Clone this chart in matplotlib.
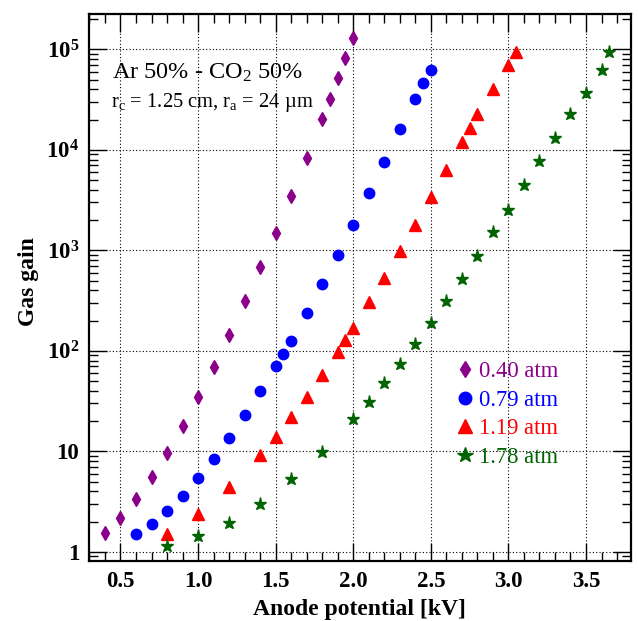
import matplotlib
matplotlib.use("Agg")
import matplotlib.pyplot as plt
from matplotlib.ticker import MultipleLocator, LogLocator, FixedLocator, FixedFormatter, NullFormatter

plt.rcParams['font.family'] = ['Liberation Serif', 'DejaVu Serif']
plt.rcParams['mathtext.fontset'] = 'custom'
plt.rcParams['mathtext.rm'] = 'Liberation Serif'
plt.rcParams['mathtext.it'] = 'Liberation Serif:italic'
plt.rcParams['mathtext.bf'] = 'Liberation Serif:bold'

# ---- data ----
v040 = [0.4, 0.5, 0.6, 0.7, 0.8, 0.9, 1.0, 1.1, 1.2, 1.3, 1.4, 1.5, 1.6, 1.7, 1.8, 1.85, 1.9, 1.95, 2.0]
g040 = [1.53, 2.16, 3.36, 5.52, 9.55, 17.8, 34.4, 69.2, 143, 311, 681, 1496, 3453, 8240, 20270,
        32000, 52500, 81800, 131000]

v079 = [0.6, 0.7, 0.8, 0.9, 1.0, 1.1, 1.2, 1.3, 1.4, 1.5, 1.55, 1.6, 1.7, 1.8, 1.9, 2.0, 2.1, 2.2,
        2.3, 2.4, 2.45, 2.5]
g079 = [1.50, 1.90, 2.55, 3.62, 5.43, 8.45, 13.6, 22.9, 39.7, 70.8, 94, 126.6, 238, 459, 890, 1808,
        3700, 7510, 16200, 32000, 46100, 62100]

v119 = [0.8, 1.0, 1.2, 1.4, 1.5, 1.6, 1.7, 1.8, 1.9, 1.95, 2.0, 2.1, 2.2, 2.3, 2.4, 2.5, 2.6, 2.7,
        2.75, 2.8, 2.9, 3.0, 3.05]
g119 = [1.52, 2.38, 4.39, 9.12, 13.8, 21.8, 34.9, 57.3, 96.9, 127, 169, 306, 535, 975, 1808, 3430,
        6310, 12050, 16500, 22500, 40300, 70200, 94500]

v178 = [0.8, 1.0, 1.2, 1.4, 1.6, 1.8, 2.0, 2.1, 2.2, 2.3, 2.4, 2.5, 2.6, 2.7, 2.8, 2.9, 3.0, 3.1,
        3.2, 3.3, 3.4, 3.5, 3.6, 3.65]
g178 = [1.155, 1.43, 1.95, 3.0, 5.27, 9.91, 20.9, 31.1, 48, 74.8, 116, 189, 311, 517, 870, 1506,
        2550, 4510, 7820, 13100, 23000, 37200, 62100, 95100]

labels = ['0.40 atm', '0.79 atm', '1.19 atm', '1.78 atm']
colors = ['#8B008B', '#0000FF', '#FF0000', '#006400']

x_ticks = [0.5, 1.0, 1.5, 2.0, 2.5, 3.0, 3.5]
x_ticklabels = ['0.5', '1.0', '1.5', '2.0', '2.5', '3.0', '3.5']
y_ticks = [1, 10, 100, 1000, 10000, 100000]
y_ticklabels = ['1', '10', r'$\mathbf{10^{2}}$', r'$\mathbf{10^{3}}$', r'$\mathbf{10^{4}}$',
                r'$\mathbf{10^{5}}$']

# ---- figure ----
fig = plt.figure(figsize=(6.38, 6.21), dpi=100)
ax = fig.add_axes([89 / 638, 1 - 561 / 621, (630.7 - 89) / 638, (561 - 14) / 621])

ax.plot(v040, g040, linestyle='none', marker='d', ms=6.8, color=colors[0], label=labels[0])
ax.plot(v079, g079, linestyle='none', marker='o', ms=7.5, color=colors[1], label=labels[1])
ax.plot(v119, g119, linestyle='none', marker='^', ms=8.0, color=colors[2], label=labels[2])
ax.plot(v178, g178, linestyle='none', marker='*', ms=9.6, color=colors[3], label=labels[3])

ax.set_yscale('log')
ax.set_xlim(0.297, 3.788)
ax.set_ylim(0.81, 2.25e5)

ax.xaxis.set_major_locator(FixedLocator(x_ticks))
ax.xaxis.set_major_formatter(FixedFormatter(x_ticklabels))
ax.xaxis.set_minor_locator(MultipleLocator(0.1))
ax.yaxis.set_major_locator(FixedLocator(y_ticks))
ax.yaxis.set_major_formatter(FixedFormatter(y_ticklabels))
ax.yaxis.set_minor_locator(LogLocator(base=10, subs=[2, 3, 4, 5, 6, 7, 8, 9], numticks=20))
ax.yaxis.set_minor_formatter(NullFormatter())

ax.tick_params(which='both', direction='in', top=True, right=True, color='black')
ax.tick_params(which='major', length=13, width=1.0, pad=7)
ax.tick_params(which='minor', length=6.5, width=1.0)
for lab in ax.get_xticklabels() + ax.get_yticklabels():
    lab.set_fontweight('bold')
    lab.set_fontsize(16.5)

for s in ax.spines.values():
    s.set_linewidth(1.6)

ax.grid(True, which='major', linestyle=(0, (1, 2)), color='black', linewidth=0.8)

ax.set_xlabel('Anode potential [kV]', fontsize=17, fontweight='bold')
ax.set_ylabel('Gas gain', fontsize=17, fontweight='bold')
ax.xaxis.set_label_coords(0.5, -0.07)
ax.yaxis.set_label_coords(-0.093, 0.51)

ax.text(0.042, 0.8824, r'Ar 50% - CO$_{2}$ 50%', transform=ax.transAxes, fontsize=17.5,
        ha='left', va='baseline')
ax.text(0.040, 0.8305, r'r$_{\mathrm{c}}$ = 1.25 cm, r$_{\mathrm{a}}$ = 24 µm', transform=ax.transAxes,
        fontsize=14.8, ha='left', va='baseline')

leg = ax.legend(loc='upper left', bbox_to_anchor=(0.6775, 0.365), frameon=False,
                prop={'family': 'Liberation Serif', 'size': 16.3}, markerscale=1.2,
                handlelength=0.8, handletextpad=0.2, labelspacing=0.33, borderpad=0,
                borderaxespad=0, numpoints=1, labelcolor='linecolor')

fig.savefig('out.png', dpi=100)
